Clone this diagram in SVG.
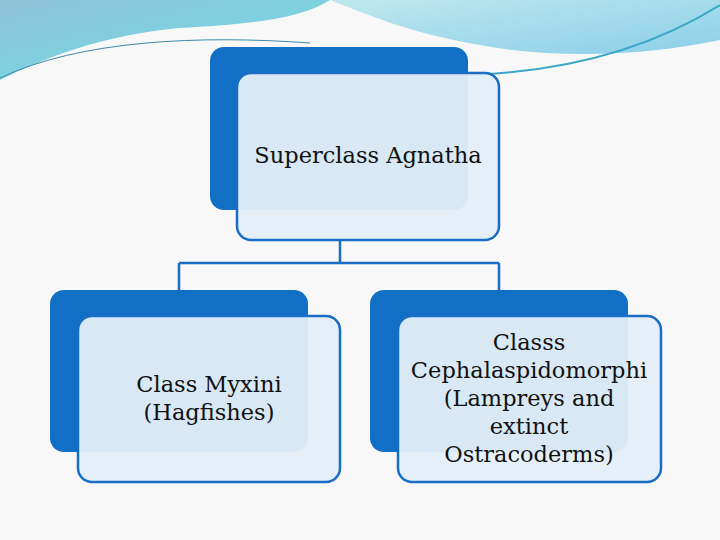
<svg xmlns="http://www.w3.org/2000/svg" width="720" height="540" viewBox="0 0 720 540">
<style>
.back{fill:#126fc6}
.front{fill:#e4eef8;fill-opacity:0.95;stroke:#1a6dc4;stroke-width:2.5}
.t{font-family:"DejaVu Serif",serif;font-size:22.5px;fill:#111;text-anchor:middle}
.c{fill:none;stroke:#1a6dc4;stroke-width:2.5}
</style>
<defs>
<linearGradient id="g1" x1="0" y1="0" x2="1" y2="1"><stop offset="0" stop-color="#8fc3d6"/><stop offset="1" stop-color="#6fdde8"/></linearGradient>
<linearGradient id="g2" x1="0" y1="0" x2="1" y2="1"><stop offset="0" stop-color="#bfe8ee"/><stop offset="1" stop-color="#8ccfe8"/></linearGradient>
</defs>
<rect width="720" height="540" fill="#f8f8f8"/>
<g id="banner">
<path d="M0 0H330C300 20 240 25 180 28C100 35 40 60 0 80Z" fill="url(#g1)"/>
<path d="M330 0H720V40C650 55 560 60 480 45C420 35 380 20 330 0Z" fill="url(#g2)"/>
<path d="M0 78C80 40 200 35 310 43" class="c" style="stroke:#3a8aa8;stroke-width:1"/>
<path d="M470 75C600 70 680 30 720 5" style="fill:none;stroke:#3aa6c8;stroke-width:2"/>
</g>
<g id="connectors">
<path class="c" d="M340 240V263M179 263H499M179 263V291M499 263V291"/>
</g>
<g id="n0">
<rect class="back" x="210" y="47" width="258" height="163" rx="14"/>
<rect class="front" x="237" y="73" width="262" height="167" rx="14"/>
<text class="t" x="368" y="163">Superclass Agnatha</text>
</g>
<g id="n1">
<rect class="back" x="50" y="290" width="258" height="162" rx="14"/>
<rect class="front" x="78" y="316" width="262" height="166" rx="14"/>
<text class="t" x="209" y="392">Class Myxini</text>
<text class="t" x="209" y="420">(Hagfishes)</text>
</g>
<g id="n2">
<rect class="back" x="370" y="290" width="258" height="162" rx="14"/>
<rect class="front" x="398" y="316" width="263" height="166" rx="14"/>
<text class="t" x="529" y="350">Classs</text>
<text class="t" x="529" y="378">Cephalaspidomorphi</text>
<text class="t" x="529" y="406">(Lampreys and</text>
<text class="t" x="529" y="434">extinct</text>
<text class="t" x="529" y="462">Ostracoderms)</text>
</g>
</svg>
